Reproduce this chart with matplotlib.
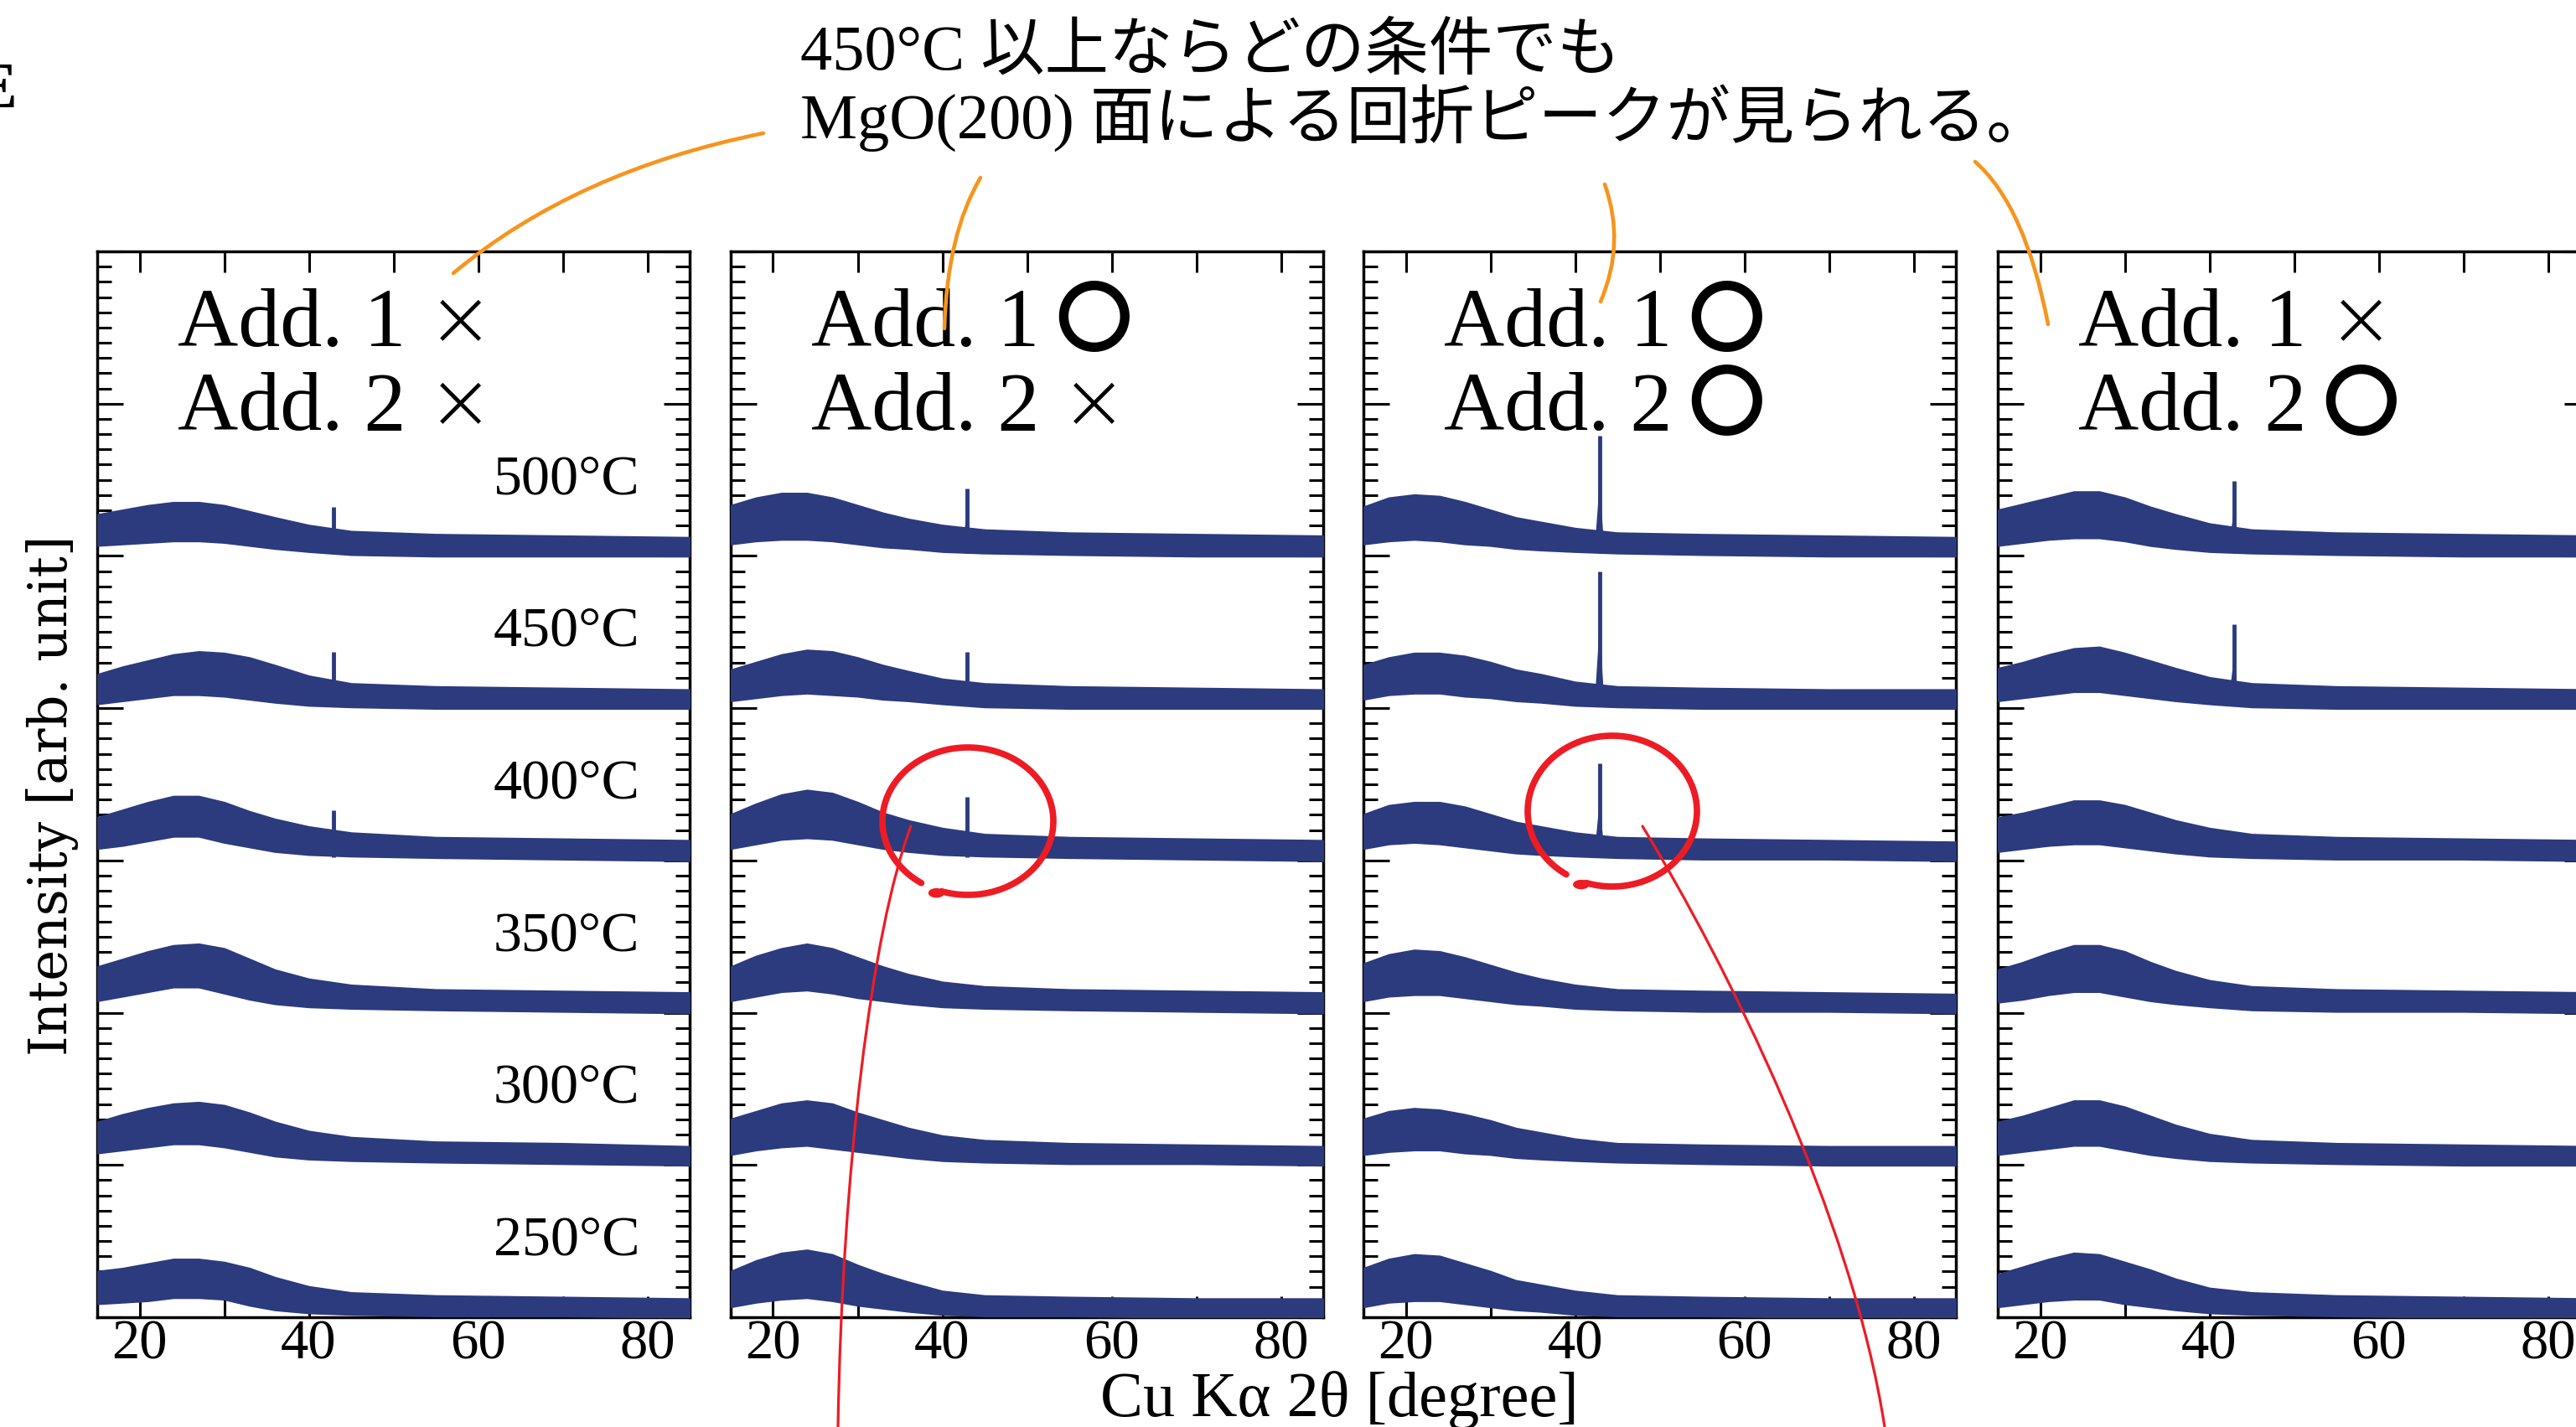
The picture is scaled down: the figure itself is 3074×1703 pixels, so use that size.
import matplotlib.pyplot as plt
import numpy as np
from matplotlib.path import Path
from matplotlib.patches import PathPatch
from matplotlib.ticker import FixedLocator, MultipleLocator

plt.rcParams['font.family'] = ['Liberation Serif', 'Noto Sans CJK JP']

tt = [15, 18, 21, 24, 27, 30, 33, 36, 40, 45, 55, 70, 85]
temps = [500, 450, 400, 350, 300, 250]
offsets = [5, 4, 3, 2, 1, 0]
mgo_pos = 42.9

add1 = ['×', '〇', '〇', '×']
add2 = ['×', '×', '〇', '〇']

# upper / lower edge of the noise band, above each trace's offset
upper_p1 = [[0.27, 0.30, 0.33, 0.35, 0.35, 0.33, 0.29, 0.25, 0.20, 0.16, 0.14, 0.13, 0.12],
            [0.22, 0.27, 0.31, 0.35, 0.37, 0.36, 0.33, 0.28, 0.21, 0.16, 0.14, 0.13, 0.12],
            [0.28, 0.33, 0.38, 0.42, 0.42, 0.38, 0.32, 0.27, 0.22, 0.18, 0.15, 0.14, 0.13],
            [0.30, 0.35, 0.40, 0.44, 0.45, 0.42, 0.35, 0.28, 0.22, 0.18, 0.15, 0.14, 0.13],
            [0.28, 0.33, 0.37, 0.40, 0.41, 0.39, 0.34, 0.28, 0.22, 0.18, 0.15, 0.14, 0.12],
            [0.30, 0.32, 0.35, 0.38, 0.38, 0.36, 0.32, 0.26, 0.20, 0.16, 0.14, 0.13, 0.12]]
lower_p1 = [[0.07, 0.08, 0.09, 0.10, 0.10, 0.09, 0.07, 0.05, 0.03, 0.01, 0.00, 0.00, 0.00],
            [0.03, 0.05, 0.07, 0.09, 0.09, 0.08, 0.06, 0.04, 0.02, 0.01, 0.00, 0.00, 0.00],
            [0.08, 0.10, 0.13, 0.16, 0.16, 0.12, 0.09, 0.06, 0.04, 0.03, 0.02, 0.01, 0.00],
            [0.08, 0.11, 0.14, 0.17, 0.17, 0.13, 0.09, 0.06, 0.04, 0.03, 0.02, 0.01, 0.00],
            [0.08, 0.10, 0.12, 0.14, 0.14, 0.12, 0.09, 0.06, 0.04, 0.03, 0.02, 0.01, 0.00],
            [0.09, 0.10, 0.11, 0.13, 0.13, 0.12, 0.08, 0.05, 0.03, 0.02, 0.01, 0.01, 0.00]]

upper_p2 = [[0.33, 0.38, 0.41, 0.41, 0.38, 0.33, 0.28, 0.24, 0.20, 0.17, 0.15, 0.14, 0.13],
            [0.25, 0.30, 0.35, 0.38, 0.37, 0.33, 0.28, 0.24, 0.19, 0.16, 0.14, 0.13, 0.12],
            [0.30, 0.37, 0.43, 0.46, 0.44, 0.38, 0.31, 0.26, 0.21, 0.17, 0.15, 0.14, 0.13],
            [0.30, 0.37, 0.42, 0.45, 0.42, 0.36, 0.30, 0.25, 0.20, 0.17, 0.15, 0.14, 0.13],
            [0.30, 0.35, 0.40, 0.42, 0.40, 0.34, 0.29, 0.24, 0.19, 0.16, 0.14, 0.13, 0.12],
            [0.30, 0.37, 0.42, 0.44, 0.41, 0.34, 0.28, 0.23, 0.17, 0.14, 0.13, 0.12, 0.12]]
lower_p2 = [[0.08, 0.10, 0.11, 0.11, 0.10, 0.08, 0.06, 0.05, 0.03, 0.02, 0.01, 0.00, 0.00],
            [0.05, 0.07, 0.09, 0.10, 0.09, 0.08, 0.06, 0.05, 0.03, 0.01, 0.00, 0.00, 0.00],
            [0.08, 0.11, 0.14, 0.15, 0.14, 0.11, 0.08, 0.06, 0.04, 0.03, 0.02, 0.01, 0.00],
            [0.08, 0.11, 0.14, 0.15, 0.13, 0.10, 0.08, 0.06, 0.04, 0.03, 0.02, 0.01, 0.00],
            [0.07, 0.10, 0.12, 0.13, 0.11, 0.09, 0.07, 0.05, 0.03, 0.02, 0.01, 0.01, 0.00],
            [0.07, 0.10, 0.12, 0.13, 0.11, 0.08, 0.06, 0.04, 0.02, 0.01, 0.01, 0.00, 0.00]]

upper_p3 = [[0.32, 0.38, 0.40, 0.39, 0.35, 0.30, 0.25, 0.22, 0.18, 0.15, 0.14, 0.13, 0.12],
            [0.28, 0.33, 0.36, 0.36, 0.34, 0.30, 0.25, 0.22, 0.17, 0.14, 0.13, 0.12, 0.12],
            [0.30, 0.36, 0.38, 0.38, 0.35, 0.30, 0.25, 0.22, 0.18, 0.15, 0.14, 0.13, 0.12],
            [0.32, 0.38, 0.41, 0.40, 0.36, 0.31, 0.26, 0.22, 0.18, 0.15, 0.14, 0.13, 0.12],
            [0.30, 0.35, 0.37, 0.36, 0.33, 0.29, 0.24, 0.21, 0.17, 0.14, 0.13, 0.12, 0.12],
            [0.32, 0.38, 0.41, 0.40, 0.35, 0.30, 0.24, 0.21, 0.17, 0.14, 0.13, 0.12, 0.12]]
lower_p3 = [[0.08, 0.10, 0.11, 0.10, 0.08, 0.07, 0.05, 0.04, 0.03, 0.02, 0.01, 0.00, 0.00],
            [0.06, 0.09, 0.10, 0.10, 0.08, 0.07, 0.05, 0.04, 0.02, 0.01, 0.00, 0.00, 0.00],
            [0.08, 0.11, 0.12, 0.11, 0.09, 0.07, 0.05, 0.04, 0.03, 0.02, 0.01, 0.01, 0.00],
            [0.08, 0.11, 0.12, 0.12, 0.10, 0.08, 0.06, 0.05, 0.03, 0.02, 0.01, 0.01, 0.00],
            [0.07, 0.09, 0.10, 0.10, 0.08, 0.07, 0.05, 0.04, 0.03, 0.02, 0.01, 0.00, 0.00],
            [0.07, 0.10, 0.11, 0.11, 0.09, 0.07, 0.05, 0.04, 0.02, 0.01, 0.01, 0.00, 0.00]]

upper_p4 = [[0.30, 0.34, 0.38, 0.42, 0.42, 0.38, 0.32, 0.27, 0.21, 0.17, 0.15, 0.14, 0.13],
            [0.26, 0.30, 0.35, 0.39, 0.40, 0.36, 0.31, 0.26, 0.20, 0.16, 0.14, 0.13, 0.12],
            [0.28, 0.31, 0.35, 0.39, 0.39, 0.36, 0.31, 0.26, 0.21, 0.17, 0.15, 0.14, 0.13],
            [0.28, 0.33, 0.39, 0.44, 0.44, 0.40, 0.33, 0.27, 0.21, 0.17, 0.15, 0.14, 0.13],
            [0.28, 0.32, 0.37, 0.42, 0.42, 0.38, 0.32, 0.26, 0.20, 0.16, 0.14, 0.13, 0.12],
            [0.28, 0.33, 0.38, 0.42, 0.41, 0.36, 0.31, 0.25, 0.19, 0.16, 0.14, 0.13, 0.12]]
lower_p4 = [[0.07, 0.09, 0.11, 0.12, 0.12, 0.10, 0.07, 0.05, 0.03, 0.02, 0.01, 0.00, 0.00],
            [0.05, 0.07, 0.09, 0.11, 0.11, 0.09, 0.07, 0.05, 0.03, 0.01, 0.00, 0.00, 0.00],
            [0.06, 0.08, 0.10, 0.11, 0.11, 0.09, 0.07, 0.05, 0.03, 0.02, 0.01, 0.01, 0.00],
            [0.07, 0.09, 0.12, 0.14, 0.14, 0.11, 0.08, 0.06, 0.04, 0.02, 0.01, 0.01, 0.00],
            [0.07, 0.09, 0.11, 0.13, 0.13, 0.10, 0.07, 0.05, 0.03, 0.02, 0.01, 0.00, 0.00],
            [0.07, 0.09, 0.11, 0.12, 0.12, 0.09, 0.07, 0.05, 0.03, 0.02, 0.01, 0.00, 0.00]]

# MgO(200) peak top above offset (0 = no peak)
peak_p1 = [0.32, 0.37, 0.33, 0, 0, 0]
peak_p2 = [0.44, 0.37, 0.42, 0, 0, 0]
peak_p3 = [0.79, 0.90, 0.64, 0, 0, 0]
peak_p4 = [0.49, 0.55, 0, 0, 0, 0]

uppers = [upper_p1, upper_p2, upper_p3, upper_p4]
lowers = [lower_p1, lower_p2, lower_p3, lower_p4]
peaks = [peak_p1, peak_p2, peak_p3, peak_p4]

navy = '#2c3a7e'
orange = '#f7941d'
red = '#ed1c24'

W, H = 3074, 1703
fig = plt.figure(figsize=(W / 100, H / 100), dpi=100)


def fpt(px, py):  # pixel position -> figure fraction
    return (px / W, 1 - py / H)


panel_left = [116, 872, 1627, 2384]
for k in range(4):
    x0, y0 = fpt(panel_left[k], 1572)
    ax = fig.add_axes([x0, y0, 707 / W, 1272 / H])
    ax.set_xlim(15, 85)
    ax.set_ylim(0, 7)
    for i in range(6):
        b = offsets[i]
        lo = [b + v for v in lowers[k][i]]
        hi = [b + v for v in uppers[k][i]]
        ax.fill_between(tt, lo, hi, facecolor=navy, edgecolor=navy, lw=2,
                        joinstyle='round', zorder=3)
        if peaks[k][i] > 0:
            ax.vlines(mgo_pos, b + 0.02, b + peaks[k][i], color=navy, lw=3.5, zorder=3)
            ax.fill([mgo_pos - 0.5, mgo_pos, mgo_pos + 0.5],
                    [b + 0.1, b + peaks[k][i] * 0.6, b + 0.1], color=navy, lw=0, zorder=3)
        if k == 0:
            ax.text(79.1, b + 0.5, f'{temps[i]}°C', ha='right', va='center', fontsize=49)

    ax.text(24.5, 6.51, 'Add. 1', ha='left', va='center', fontsize=72)
    ax.text(24.5, 5.96, 'Add. 2', ha='left', va='center', fontsize=72)
    for sym, yy in [(add1[k], 6.53), (add2[k], 5.98)]:
        if sym == '×':
            ax.text(57.9, yy, sym, ha='center', va='center', fontsize=68,
                    family='DejaVu Sans', fontweight='light')
        else:
            ax.text(57.9, yy, sym, ha='center', va='center', fontsize=66,
                    family='Noto Sans CJK JP', fontweight='bold')

    ax.xaxis.set_major_locator(FixedLocator([20, 40, 60, 80]))
    ax.xaxis.set_minor_locator(FixedLocator([30, 50, 70]))
    ax.yaxis.set_major_locator(MultipleLocator(1))
    ax.yaxis.set_minor_locator(MultipleLocator(0.1))
    ax.tick_params(axis='x', which='both', direction='in', top=True, length=18,
                   width=2.2, labelsize=48, pad=2)
    ax.tick_params(axis='y', which='major', direction='in', left=True, right=True,
                   length=22, width=2.2, labelleft=False)
    ax.tick_params(axis='y', which='minor', direction='in', left=True, right=True,
                   length=12, width=2.2)
    for s in ax.spines.values():
        s.set_linewidth(2.5)

fig.text(*fpt(63, 949), 'Intensity [arb. unit]', rotation=90, ha='center', va='center',
         fontsize=45, family='DejaVu Serif')
fig.text(*fpt(1598, 1671), 'Cu Kα 2θ [degree]', ha='center', va='center', fontsize=55)

fig.text(*fpt(955, 63), '450°C 以上ならどの条件でも', ha='left', va='center', fontsize=55)
fig.text(*fpt(955, 141), 'MgO(200) 面による回折ピークが見られる。', ha='left', va='center',
         fontsize=55)
fig.text(*fpt(20, 109), 'E', ha='right', va='center', fontsize=56, fontweight='bold')


def curve(pts, codes, color, lw):
    verts = [fpt(px, py) for px, py in pts]
    fig.add_artist(PathPatch(Path(verts, codes), fill=False, edgecolor=color, lw=lw,
                             transform=fig.transFigure, zorder=5, capstyle='round'))


Q = [Path.MOVETO, Path.CURVE3, Path.CURVE3]
C = [Path.MOVETO, Path.CURVE4, Path.CURVE4, Path.CURVE4]

# orange leaders from the comment to each panel
curve([(911, 159), (687, 204), (541, 326)], Q, orange, 3.3)
curve([(1170, 212), (1130, 280), (1127, 392)], Q, orange, 3.3)
curve([(1915, 220), (1940, 290), (1910, 360)], Q, orange, 3.3)
curve([(2357, 193), (2417, 246), (2444, 387)], Q, orange, 3.3)

# red hand-drawn loops around the 400°C peaks
for cx, cy, rx, ry in [(1155, 980, 102, 88), (1924, 968, 101, 90)]:
    ang = np.radians(np.linspace(237, -108, 120))
    pts = list(zip(cx + rx * np.cos(ang), cy - ry * np.sin(ang)))
    verts = [fpt(px, py) for px, py in pts]
    fig.add_artist(PathPatch(Path(verts), fill=False, edgecolor=red, lw=5.5,
                             transform=fig.transFigure, zorder=5, capstyle='round'))
    ex, ey = pts[-1]
    fig.add_artist(plt.Circle(fpt(ex - 6, ey + 2), 9 / W, color=red,
                              transform=fig.transFigure, zorder=5))

curve([(1087, 986), (1040, 1110), (1005, 1400), (1000, 1703)], C, red, 2.3)
curve([(1960, 986), (2060, 1150), (2210, 1450), (2249, 1703)], C, red, 2.3)

fig.savefig('out.png', dpi=100)
